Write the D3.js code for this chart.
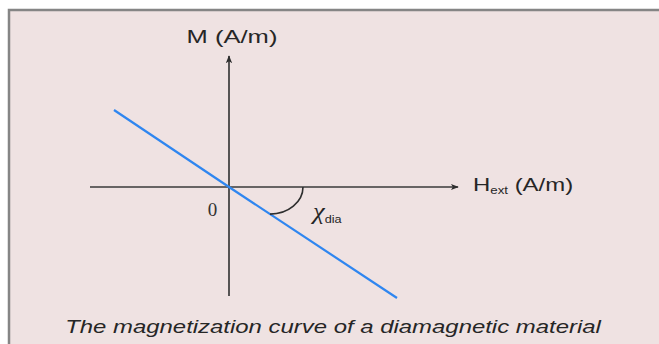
<!DOCTYPE html>
<html>
<head>
<meta charset="utf-8">
<script src="https://cdn.jsdelivr.net/npm/d3@7/dist/d3.min.js"></script>
<style>
  html, body { margin: 0; padding: 0; background: #ffffff; }
  svg { display: block; }
</style>
</head>
<body>
<svg id="chart" width="659" height="344"></svg>
<script>
// Magnetization M versus external field H for a diamagnetic material (M = χ·H, χ < 0)
const hValues = [-1.15, 0, 1.68];   // H_ext (arbitrary units)
const mValues = [0.77, 0, -1.11];   // M (arbitrary units)

// Axis extents in the same units
const hExtent = [-1.39, 2.29];
const mExtent = [-1.09, 1.31];

const axisLabels = { x: "H", xSub: "ext", xUnit: " (A/m)", y: "M (A/m)" };
const originLabel = ["0"];
const slopeLabel = { main: "χ", sub: "dia" };
const caption = ["The magnetization curve of a diamagnetic material"];

const svg = d3.select("#chart");
const W = 659, H = 344;
const stretch = 1.33;   // text is set wide

// Panel
svg.append("rect")
  .attr("x", 9).attr("y", 10)
  .attr("width", W + 10).attr("height", H + 10)
  .attr("fill", "#efe2e2")
  .attr("stroke", "#858585")
  .attr("stroke-width", 2.5);

const x = d3.scaleLinear().domain(hExtent).range([90, 458]);
const y = d3.scaleLinear().domain(mExtent).range([296, 56]);

const defs = svg.append("defs");
defs.append("marker")
  .attr("id", "arrow")
  .attr("viewBox", "0 0 10 10")
  .attr("refX", 9).attr("refY", 5)
  .attr("markerWidth", 8).attr("markerHeight", 8)
  .attr("markerUnits", "userSpaceOnUse")
  .attr("orient", "auto")
  .append("path")
  .attr("d", "M0,1 L10,5 L0,9 L2.5,5 Z")
  .attr("fill", "#2e2e2e");

const axisColor = "#3a3a3a";

// Horizontal axis (H_ext)
svg.append("line")
  .attr("x1", x(hExtent[0])).attr("y1", y(0))
  .attr("x2", x(hExtent[1])).attr("y2", y(0))
  .attr("stroke", axisColor).attr("stroke-width", 1.7)
  .attr("marker-end", "url(#arrow)");

// Vertical axis (M)
svg.append("line")
  .attr("x1", x(0)).attr("y1", y(mExtent[0]))
  .attr("x2", x(0)).attr("y2", y(mExtent[1]))
  .attr("stroke", axisColor).attr("stroke-width", 1.7)
  .attr("marker-end", "url(#arrow)");

// Magnetization line
const pts = hValues.map((h, i) => [h, mValues[i]]);
svg.append("path")
  .datum(pts)
  .attr("d", d3.line().x(d => x(d[0])).y(d => y(d[1])))
  .attr("fill", "none")
  .attr("stroke", "#2f86f0")
  .attr("stroke-width", 2.2);

// Angle arc between the H axis and the line
const slope = (mValues[2] - mValues[1]) / (hValues[2] - hValues[1]);
const arcStartH = 0.74, arcEndH = 0.41;
const ax0 = x(arcStartH), ay0 = y(0);
const ax1 = x(arcEndH), ay1 = y(arcEndH * slope);
svg.append("path")
  .attr("d", `M${ax0},${ay0} A${ax0 - ax1},${ay1 - ay0} 0 0 1 ${ax1},${ay1}`)
  .attr("fill", "none")
  .attr("stroke", "#2e2e2e")
  .attr("stroke-width", 1.6);

function wideText(px, py, anchor, k) {
  return svg.append("text")
    .attr("transform", `translate(${px},${py}) scale(${k || stretch},1)`)
    .attr("text-anchor", anchor)
    .attr("fill", "#262626");
}

// Y axis title
wideText(x(0) + 3, 43, "middle", 1.42)
  .attr("font-family", "Liberation Sans, Arial, sans-serif")
  .attr("font-size", 18)
  .text(axisLabels.y);

// X axis title with subscript
const xt = wideText(473, 191, "start")
  .attr("font-family", "Liberation Sans, Arial, sans-serif")
  .attr("font-size", 18);
xt.append("tspan").text(axisLabels.x);
xt.append("tspan").attr("font-size", 10).attr("dy", 3).text(axisLabels.xSub);
xt.append("tspan").attr("dy", -3).text(axisLabels.xUnit);

// Origin label
svg.selectAll("text.origin").data(originLabel).join("text")
  .attr("class", "origin")
  .attr("x", 212.5).attr("y", 216)
  .attr("text-anchor", "middle")
  .attr("font-family", "Liberation Serif, Times New Roman, serif")
  .attr("font-size", 19)
  .attr("fill", "#333")
  .text(d => d);

// Slope label χ_dia
const st = wideText(313, 219, "start", 1.15)
  .attr("font-family", "Liberation Serif, Times New Roman, serif");
st.append("tspan").attr("font-size", 23).attr("font-style", "italic").text(slopeLabel.main);
st.append("tspan").attr("font-family", "Liberation Sans, Arial, sans-serif")
  .attr("font-size", 11).attr("dy", 4).attr("dx", 0).text(slopeLabel.sub);

// Caption
svg.selectAll("g.caption").data(caption).join("g")
  .attr("class", "caption")
  .attr("transform", `translate(333,333) scale(${stretch},1)`)
  .append("text")
  .attr("text-anchor", "middle")
  .attr("font-family", "Liberation Sans, Arial, sans-serif")
  .attr("font-style", "italic")
  .attr("font-size", 18)
  .attr("fill", "#262626")
  .text(d => d);
</script>
</body>
</html>
